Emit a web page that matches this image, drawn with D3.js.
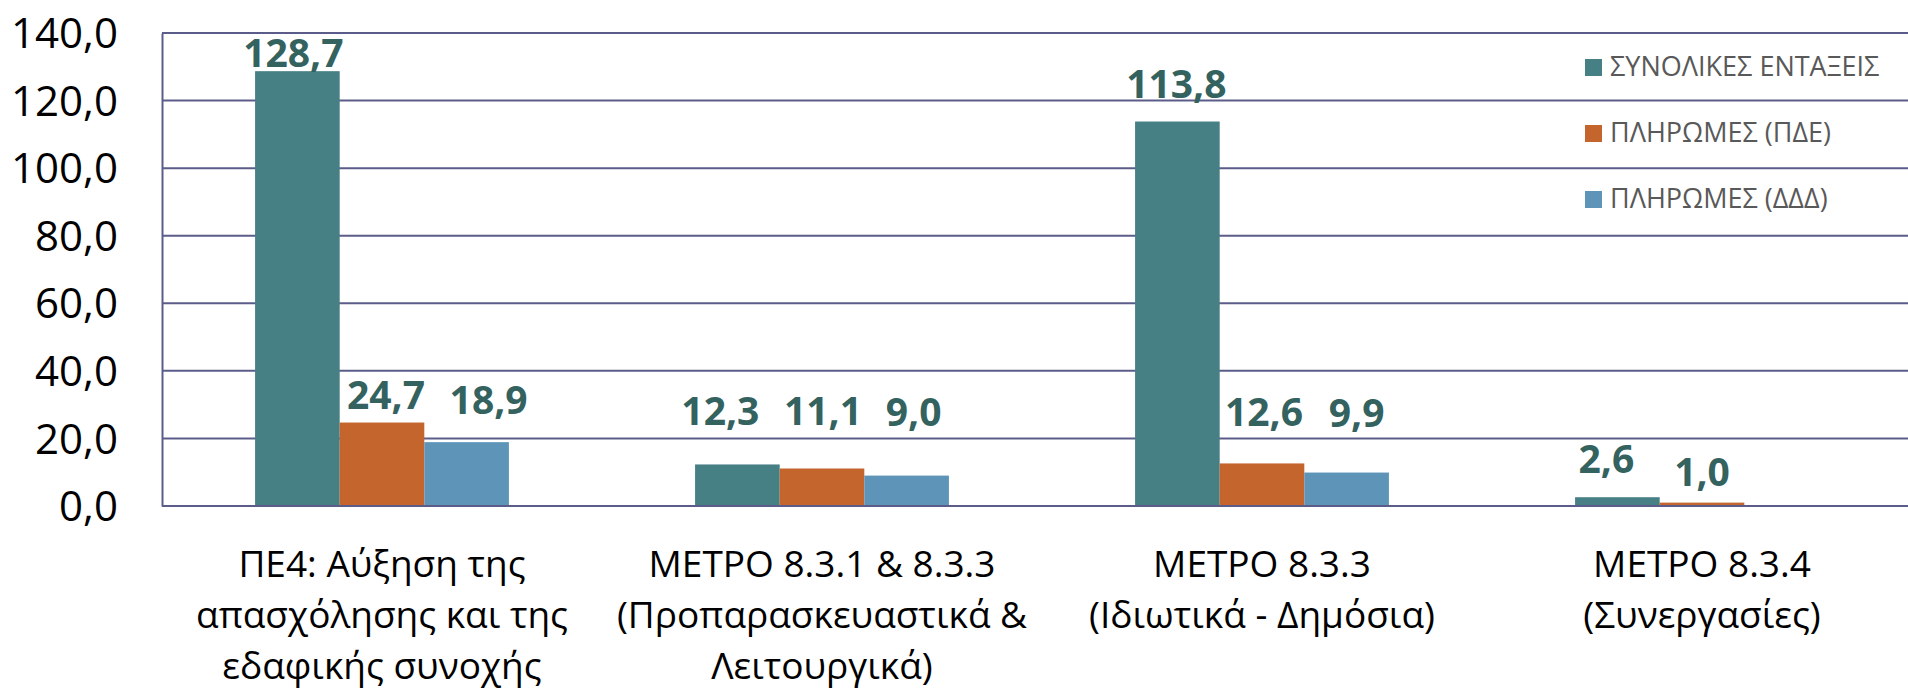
<!DOCTYPE html>
<html>
<head>
<meta charset="utf-8">
<script src="https://cdn.jsdelivr.net/npm/d3@7"></script>
<style>
  html, body { margin: 0; padding: 0; background: #fff; }
  svg { display: block; font-family: "Open Sans", sans-serif; }
</style>
</head>
<body>
<svg id="chart" width="1908" height="692"></svg>
<script>
// Data
var categories = [
    ["ΠΕ4: Αύξηση της", "απασχόλησης και της", "εδαφικής συνοχής"],
    ["ΜΕΤΡΟ 8.3.1 & 8.3.3", "(Προπαρασκευαστικά &", "Λειτουργικά)"],
    ["ΜΕΤΡΟ 8.3.3", "(Ιδιωτικά - Δημόσια)"],
    ["ΜΕΤΡΟ 8.3.4", "(Συνεργασίες)"]
];
var seriesNames = ["ΣΥΝΟΛΙΚΕΣ ΕΝΤΑΞΕΙΣ", "ΠΛΗΡΩΜΕΣ (ΠΔΕ)", "ΠΛΗΡΩΜΕΣ (ΔΔΔ)"];
var entaxeis = [128.7, 12.3, 113.8, 2.6];
var pliromesPDE = [24.7, 11.1, 12.6, 1.0];
var pliromesDDD = [18.9, 9.0, 9.9, null];
var yTicks = [0, 20, 40, 60, 80, 100, 120, 140];

// label nudges [dx, lift above bar] per category, per series (pixels)
var labelNudge = [
    [[-4, 4], [4, 14], [22, 28]],
    [[-17, 39], [1, 43], [7, 50]],
    [[-1, 24], [2, 37], [10, 46]],
    [[-11, 24], [0, 17], [0, 0]]
];

var colors = ["#467f84", "#c4652d", "#5d94b8"];
var gridColor = "#5c5c8a";

var svg = d3.select("#chart");
var margin = {left: 162, top: 33, right: 1922, bottom: 506};

var x0 = d3.scaleBand()
    .domain(d3.range(categories.length))
    .range([margin.left, margin.right])
    .paddingInner(0).paddingOuter(0);
var x1 = d3.scaleBand()
    .domain(d3.range(seriesNames.length))
    .range([0, x0.bandwidth()])
    .paddingInner(0).paddingOuter(1.1);
var y = d3.scaleLinear().domain([0, 140]).range([margin.bottom, margin.top]);

var values = [entaxeis, pliromesPDE, pliromesDDD];

// Gridlines
svg.append("g").selectAll("line")
    .data(yTicks)
    .enter().append("line")
    .attr("x1", margin.left).attr("x2", margin.right)
    .attr("y1", function(d){ return y(d); })
    .attr("y2", function(d){ return y(d); })
    .attr("stroke", gridColor)
    .attr("stroke-width", 2);

// Y axis (left line + tick labels)
var yAxis = d3.axisLeft(y).tickValues(yTicks).tickSize(0).tickPadding(0)
    .tickFormat(function(d){ return d3.format(".1f")(d).replace(".", ","); });
var yg = svg.append("g").attr("transform", "translate(" + margin.left + ",0)").call(yAxis);
yg.select(".domain").attr("stroke", gridColor).attr("stroke-width", 2);
yg.selectAll("text")
    .attr("x", 118 - margin.left)
    .attr("dy", "0.35em")
    .attr("fill", "#000")
    .style("font-size", "42px")
    .style("font-family", "'Open Sans', sans-serif");

// Bars
var groups = svg.append("g").selectAll("g")
    .data(categories)
    .enter().append("g")
    .attr("transform", function(d, i){ return "translate(" + x0(i) + ",0)"; });

groups.each(function(cat, ci){
    var g = d3.select(this);
    values.forEach(function(series, si){
        var v = series[ci];
        if (v === null) return;
        g.append("rect")
            .attr("x", x1(si))
            .attr("y", y(v))
            .attr("width", x1.bandwidth())
            .attr("height", y(0) - y(v))
            .attr("fill", colors[si]);
        var n = labelNudge[ci][si];
        g.append("text")
            .attr("x", x1(si) + x1.bandwidth() / 2 + n[0])
            .attr("y", y(v) - n[1])
            .attr("text-anchor", "middle")
            .attr("fill", "#33625f")
            .style("font-size", "39px")
            .style("font-weight", "bold")
            .text(d3.format(".1f")(v).replace(".", ","));
    });
});

// bottom axis line over bars
svg.append("line")
    .attr("x1", margin.left).attr("x2", margin.right)
    .attr("y1", y(0)).attr("y2", y(0))
    .attr("stroke", gridColor).attr("stroke-width", 2);

// Category labels
groups.append("text")
    .attr("text-anchor", "middle")
    .attr("fill", "#000")
    .style("font-size", "37px")
    .selectAll("tspan")
    .data(function(d){ return d; })
    .enter().append("tspan")
    .attr("x", x0.bandwidth() / 2)
    .attr("y", function(d, i){ return 577 + i * 51; })
    .text(function(d){ return d; });

// Legend
var legend = svg.append("g").selectAll("g")
    .data(seriesNames)
    .enter().append("g")
    .attr("transform", function(d, i){ return "translate(1585," + (59 + i * 66) + ")"; });
legend.append("rect")
    .attr("width", 17).attr("height", 17)
    .attr("fill", function(d, i){ return colors[i]; });
legend.append("text")
    .attr("x", 25).attr("y", 17)
    .attr("fill", "#595959")
    .style("font-size", "27px")
    .text(function(d){ return d; });
</script>
</body>
</html>
